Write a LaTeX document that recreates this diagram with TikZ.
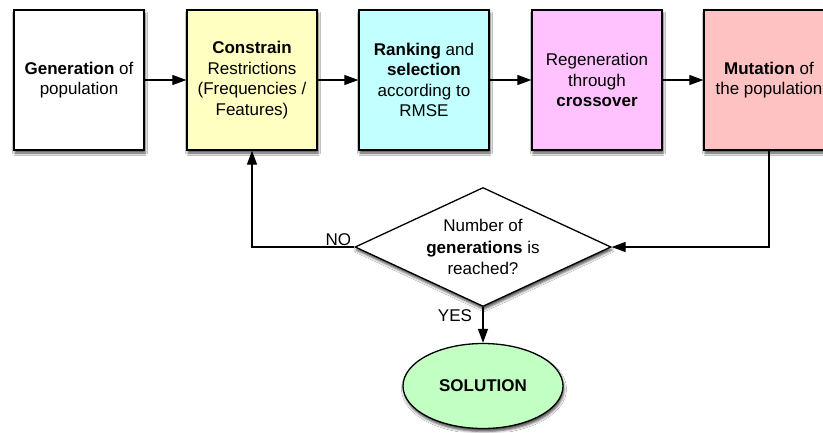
\documentclass[tikz,border=0pt]{standalone}
\usepackage{fontspec}
\setmainfont{Liberation Sans}
\usetikzlibrary{shapes.geometric,arrows.meta,shadows.blur}
\definecolor{cyellow}{HTML}{FFFFC2}
\definecolor{ccyan}{HTML}{C2FFFF}
\definecolor{cmagenta}{HTML}{FFC2FF}
\definecolor{cred}{HTML}{FFC2C2}
\definecolor{cgreen}{HTML}{C2FFC2}
\begin{document}
\begin{tikzpicture}[x=1pt,y=-1pt,
  shad/.style={blur shadow={shadow xshift=1pt,shadow yshift=-3pt,shadow blur radius=2.5pt,shadow opacity=70}},
  box/.style={draw=black, line width=1.3pt, minimum width=130pt, minimum height=140pt,
    inner sep=0pt, align=center, font=\fontsize{17}{20.5}\selectfont, shad},
  conn/.style={line width=1.2pt, -{Triangle[length=14pt,width=10pt]}},
  lbl/.style={font=\fontsize{17}{20}\selectfont, inner sep=1pt}
]
\clip (0,0) rectangle (823,432);
\fill[white] (0,0) rectangle (823,432);

\node[box, fill=white]    (gen) at (79,80)  {\textbf{Generation} of\\population};
\node[box, fill=cyellow]  (con) at (252,80) {\textbf{Constrain}\\Restrictions\\(Frequencies /\\Features)};
\node[box, fill=ccyan]    (ran) at (424,80) {\textbf{Ranking} and\\\textbf{selection}\\according to\\RMSE};
\node[box, fill=cmagenta] (reg) at (597,80) {Regeneration\\through\\\textbf{crossover}};
\node[box, fill=cred]     (mut) at (769,80) {\textbf{Mutation} of\\the population};

\node[diamond, draw=black, fill=white, line width=1.3pt, shad, inner sep=0pt,
  minimum width=256pt, minimum height=119pt, aspect=2.15, align=center,
  font=\fontsize{17}{21.5}\selectfont] (dia) at (483,247)
  {Number of\\\textbf{generations} is\\reached?};

\node[ellipse, draw=black, fill=cgreen, line width=1.3pt, shad, inner sep=0pt,
  minimum width=160pt, minimum height=85pt, font=\fontsize{17}{20}\selectfont\bfseries]
  (sol) at (483,386) {SOLUTION};

\draw[conn] (gen) -- (con);
\draw[conn] (con) -- (ran);
\draw[conn] (ran) -- (reg);
\draw[conn] (reg) -- (mut);
\draw[conn] (mut.south) |- (dia.east);
\draw[conn] (dia.west) -| (con.south);
\draw[conn] (dia.south) -- (sol.north);

\node[lbl, anchor=south east] (no) at ([xshift=-2pt]dia.west) {NO};
\node[lbl] (yes) at (455,316) {YES};
\end{tikzpicture}
\end{document}
